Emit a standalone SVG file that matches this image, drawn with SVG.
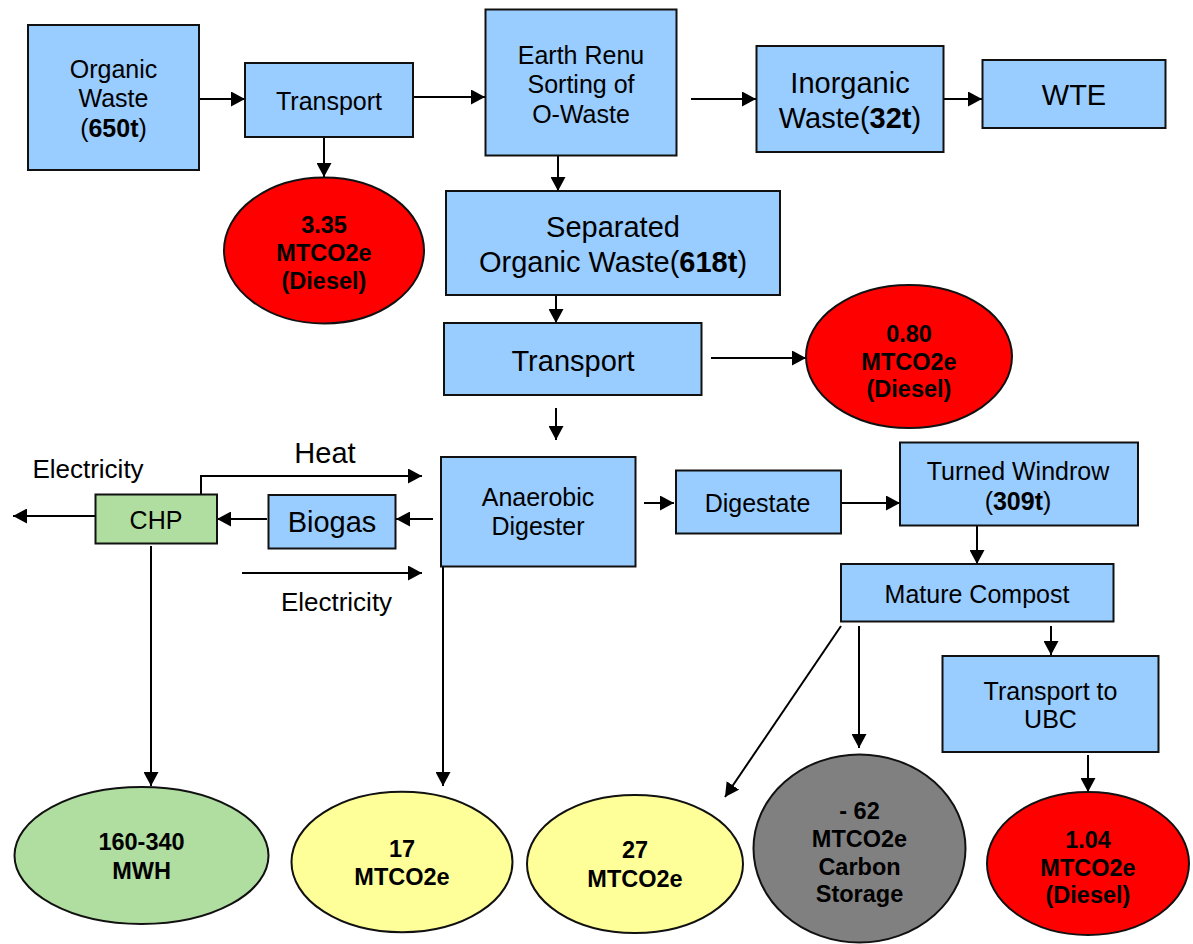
<svg xmlns="http://www.w3.org/2000/svg" width="1193" height="944" viewBox="0 0 1193 944">
<style>
text{font-family:"Liberation Sans",Arial,sans-serif;fill:#000;text-anchor:middle}
.box{fill:#99CCFF;stroke:#111;stroke-width:2}
.chp{fill:#B0DDA0;stroke:#111;stroke-width:2}
.red{fill:#FF0000;stroke:#111;stroke-width:2}
.yel{fill:#FFFF99;stroke:#111;stroke-width:2}
.gry{fill:#808080;stroke:#111;stroke-width:2}
.grn{fill:#B0DDA0;stroke:#111;stroke-width:2}
.t25{font-size:25px}
.t29{font-size:29px}
.b{font-size:23.5px;font-weight:bold}
.lbl{font-size:26px}
#connectors path{fill:none;stroke:#000;stroke-width:2}
</style>
<defs>
<marker id="ah" markerUnits="userSpaceOnUse" markerWidth="15" markerHeight="15" refX="14" refY="7.5" orient="auto">
<path d="M0,0 L14,7.5 L0,15 z" fill="#000"/>
</marker>
</defs>

<g id="connectors">
<path d="M199,99 L245,99" marker-end="url(#ah)"/>
<path d="M413,97 L485,97" marker-end="url(#ah)"/>
<path d="M324,137 L324,177" marker-end="url(#ah)"/>
<path d="M691,99 L756,99" marker-end="url(#ah)"/>
<path d="M943,99 L982,99" marker-end="url(#ah)"/>
<path d="M558,155 L558,191" marker-end="url(#ah)"/>
<path d="M556,295 L556,323" marker-end="url(#ah)"/>
<path d="M711,358 L806,358" marker-end="url(#ah)"/>
<path d="M556,408 L556,440" marker-end="url(#ah)"/>
<path d="M433,519 L396,519" marker-end="url(#ah)"/>
<path d="M267,519 L217,519" marker-end="url(#ah)"/>
<path d="M95,516 L13,516" marker-end="url(#ah)"/>
<path d="M201,494 L201,476 L422,476" marker-end="url(#ah)"/>
<path d="M242,573 L422,573" marker-end="url(#ah)"/>
<path d="M151,546 L151,786" marker-end="url(#ah)"/>
<path d="M443,567 L443,786" marker-end="url(#ah)"/>
<path d="M644,503 L674,503" marker-end="url(#ah)"/>
<path d="M841,503 L900,503" marker-end="url(#ah)"/>
<path d="M977,526 L977,564" marker-end="url(#ah)"/>
<path d="M841,626 L725,797" marker-end="url(#ah)"/>
<path d="M859,626 L859,748" marker-end="url(#ah)"/>
<path d="M1051,626 L1051,655" marker-end="url(#ah)"/>
<path d="M1088,755 L1088,792" marker-end="url(#ah)"/>
</g>

<g id="organic-waste">
<rect class="box" x="28" y="25" width="171" height="145"/>
<text class="t25" x="113.5" y="78">Organic</text>
<text class="t25" x="113.5" y="107">Waste</text>
<text class="t25" x="113.5" y="137">(<tspan font-weight="bold">650t</tspan>)</text>
</g>

<g id="transport1">
<rect class="box" x="245" y="63" width="168" height="74"/>
<text class="t25" x="329" y="110">Transport</text>
</g>

<g id="diesel1">
<ellipse class="red" cx="324" cy="250.5" rx="100" ry="73"/>
<text class="b" x="324" y="233">3.35</text>
<text class="b" x="324" y="261">MTCO2e</text>
<text class="b" x="324" y="289">(Diesel)</text>
</g>

<g id="earth-renu">
<rect class="box" x="485.5" y="9.5" width="191" height="146"/>
<text class="t25" x="581" y="64">Earth Renu</text>
<text class="t25" x="581" y="93">Sorting of</text>
<text class="t25" x="581" y="123">O-Waste</text>
</g>

<g id="inorganic">
<rect class="box" x="756.5" y="46" width="187" height="106"/>
<text class="t29" x="850" y="93">Inorganic</text>
<text class="t29" x="850" y="128">Waste(<tspan font-weight="bold">32t</tspan>)</text>
</g>

<g id="wte">
<rect class="box" x="982.5" y="60" width="183" height="68"/>
<text class="t29" x="1074" y="105">WTE</text>
</g>

<g id="separated">
<rect class="box" x="446" y="191" width="334" height="104"/>
<text class="t29" x="613" y="237">Separated</text>
<text class="t29" x="613" y="272">Organic Waste(<tspan font-weight="bold">618t</tspan>)</text>
</g>

<g id="transport2">
<rect class="box" x="444" y="323" width="257.5" height="72"/>
<text class="t29" x="573" y="371" font-size="28">Transport</text>
</g>

<g id="diesel2">
<ellipse class="red" cx="909" cy="356.5" rx="103" ry="71.5"/>
<text class="b" x="909" y="342">0.80</text>
<text class="b" x="909" y="370">MTCO2e</text>
<text class="b" x="909" y="397">(Diesel)</text>
</g>

<g id="anaerobic">
<rect class="box" x="441" y="457" width="194.5" height="109.5"/>
<text class="t25" x="538" y="506">Anaerobic</text>
<text class="t25" x="538" y="535">Digester</text>
</g>

<g id="biogas">
<rect class="box" x="268.5" y="495" width="127" height="53.5"/>
<text class="t29" x="332" y="532">Biogas</text>
</g>

<g id="chp">
<rect class="chp" x="95.5" y="494.5" width="121.5" height="49"/>
<text class="t25" x="156" y="529">CHP</text>
</g>

<g id="labels">
<text class="lbl" x="88" y="478">Electricity</text>
<text class="t29" x="325" y="463">Heat</text>
<text class="lbl" x="336.5" y="611">Electricity</text>
</g>

<g id="digestate">
<rect class="box" x="676" y="470.5" width="165" height="63"/>
<text class="t25" x="757.5" y="512">Digestate</text>
</g>

<g id="turned-windrow">
<rect class="box" x="900" y="442.5" width="238" height="83"/>
<text class="t25" x="1018" y="480">Turned Windrow</text>
<text class="t25" x="1018" y="510">(<tspan font-weight="bold">309t</tspan>)</text>
</g>

<g id="mature-compost">
<rect class="box" x="841" y="564" width="272.5" height="57.5"/>
<text class="t25" x="977" y="603">Mature Compost</text>
</g>

<g id="transport-ubc">
<rect class="box" x="942.5" y="656" width="216" height="96"/>
<text class="t25" x="1050.5" y="700">Transport to</text>
<text class="t25" x="1050.5" y="728">UBC</text>
</g>

<g id="mwh">
<ellipse class="grn" cx="141.5" cy="855.5" rx="127" ry="68.5"/>
<text class="b" x="141.5" y="850">160-340</text>
<text class="b" x="141.5" y="879">MWH</text>
</g>

<g id="e17">
<ellipse class="yel" cx="402" cy="862" rx="110.5" ry="70.3"/>
<text class="b" x="402" y="857">17</text>
<text class="b" x="402" y="885">MTCO2e</text>
</g>

<g id="e27">
<ellipse class="yel" cx="635" cy="864" rx="108" ry="69"/>
<text class="b" x="635" y="858">27</text>
<text class="b" x="635" y="887">MTCO2e</text>
</g>

<g id="carbon-storage">
<ellipse class="gry" cx="859.5" cy="848.5" rx="106" ry="94"/>
<text class="b" x="859.5" y="819">- 62</text>
<text class="b" x="859.5" y="847">MTCO2e</text>
<text class="b" x="859.5" y="875">Carbon</text>
<text class="b" x="859.5" y="902">Storage</text>
</g>

<g id="diesel3">
<ellipse class="red" cx="1088" cy="863.5" rx="101" ry="71.5"/>
<text class="b" x="1088" y="848">1.04</text>
<text class="b" x="1088" y="876">MTCO2e</text>
<text class="b" x="1088" y="903">(Diesel)</text>
</g>
</svg>
